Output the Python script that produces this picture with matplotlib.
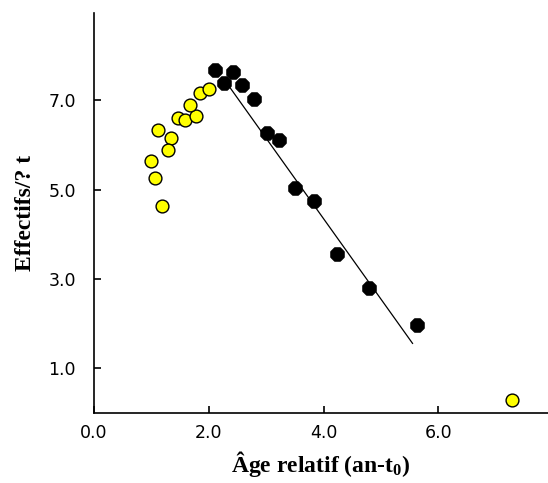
import matplotlib
matplotlib.use("Agg")
import matplotlib.pyplot as plt

# juvenile points (yellow)
young_x = [1.12, 1.35, 1.29, 0.99, 1.06, 1.19, 1.47, 1.59, 1.78, 1.67, 1.85, 2.01, 7.29]
young_y = [6.34, 6.15, 5.89, 5.63, 5.25, 4.63, 6.60, 6.55, 6.65, 6.90, 7.16, 7.25, 0.28]

# older points (black)
old_x = [2.11, 2.42, 2.26, 2.58, 2.78, 3.01, 3.23, 3.50, 3.83, 4.24, 4.80, 5.63]
old_y = [7.68, 7.63, 7.38, 7.35, 7.03, 6.26, 6.11, 5.03, 4.75, 3.55, 2.80, 1.96]

# catch curve fit line, end points
fit_x = [2.34, 5.55]
fit_y = [7.34, 1.55]

x_ticks = [0, 2, 4, 6]
x_tick_labels = ["0.0", "2.0", "4.0", "6.0"]
y_ticks = [1, 3, 5, 7]
y_tick_labels = ["1.0", "3.0", "5.0", "7.0"]

plt.rcParams['mathtext.fontset'] = 'custom'
plt.rcParams['mathtext.rm'] = 'Liberation Serif:bold'
plt.rcParams['mathtext.it'] = 'Liberation Serif:bold'
plt.rcParams['mathtext.bf'] = 'Liberation Serif:bold'
plt.rcParams['mathtext.default'] = 'rm'

fig = plt.figure(figsize=(5.48, 4.83), dpi=100)
ax = fig.add_axes([94 / 548, 70.5 / 483, 454 / 548, 399.5 / 483])

ax.scatter(young_x, young_y, s=85, c='#ffff00', edgecolors='black', linewidths=1.0, zorder=3)
ax.plot(fit_x, fit_y, color='black', lw=0.9, zorder=4)
ax.scatter(old_x, old_y, s=105, c='black', marker='8', edgecolors='black', linewidths=1.0, zorder=5)

ax.set_xlim(0, 7.91)
ax.set_ylim(0, 8.96)

ax.set_xticks(x_ticks)
ax.set_xticklabels(x_tick_labels, family='DejaVu Sans', fontsize=12.5)
ax.set_yticks(y_ticks)
ax.set_yticklabels(y_tick_labels, family='DejaVu Sans', fontsize=12.5)
ax.tick_params(axis='x', direction='in', length=5, width=1.2, pad=8)
ax.tick_params(axis='y', direction='in', length=5, width=1.2, pad=13)

for side in ['top', 'right']:
    ax.spines[side].set_visible(False)
for side in ['left', 'bottom']:
    ax.spines[side].set_linewidth(1.2)

ax.set_xlabel(r'Âge relatif (an-t$_0$)', family='Liberation Serif', fontweight='bold',
              fontsize=17, labelpad=5)
ax.set_ylabel('Effectifs/? t', family='Liberation Serif', fontweight='bold',
              fontsize=17, labelpad=9)

fig.savefig('out.png', dpi=100)
